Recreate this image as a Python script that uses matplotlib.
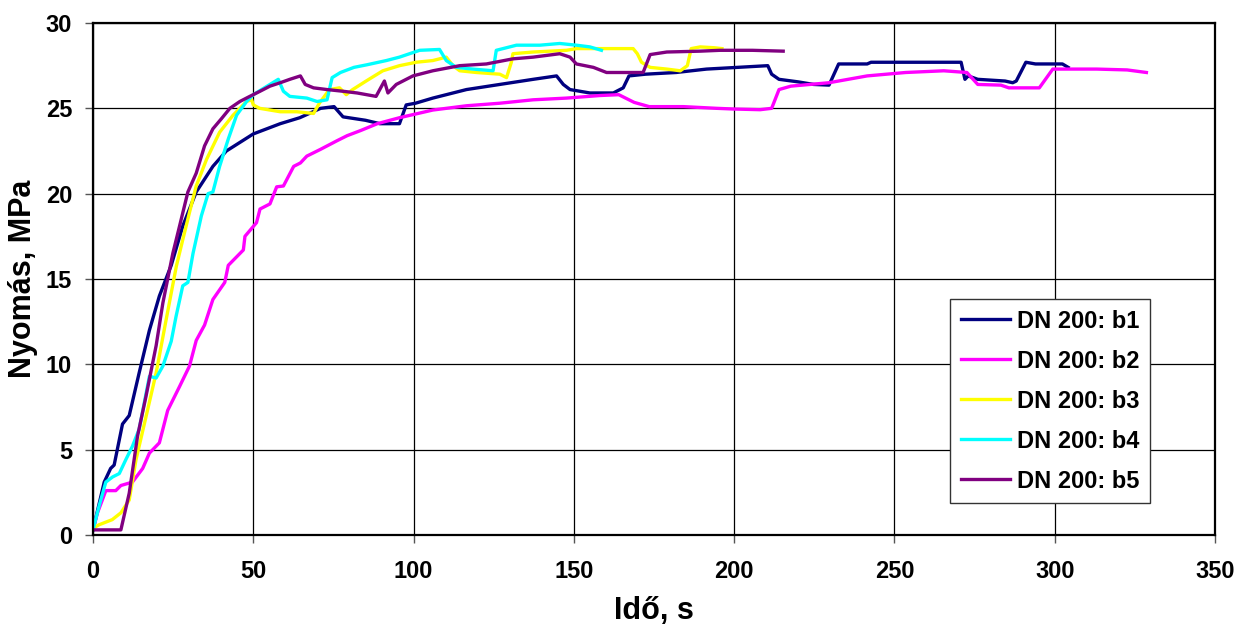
import matplotlib
matplotlib.use("Agg")
import matplotlib.pyplot as plt

plt.rcParams['font.family'] = ['Liberation Sans', 'DejaVu Sans']
plt.rcParams['font.weight'] = 'bold'

labels = ["DN 200: b1", "DN 200: b2", "DN 200: b3", "DN 200: b4", "DN 200: b5"]
colors = ["#000080", "#FF00FF", "#FFFF00", "#00FFFF", "#800080"]

t_b1 = [0, 3.5, 5.5, 6.6, 9.2, 11.3, 14.4, 17.6, 20.7, 24.4, 28, 32.2, 37.4, 41.6, 45.8, 50, 58.4, 64.5, 71, 75.2, 78, 85, 89.5, 95.6, 97.7, 100.6, 106, 116.5, 126.9, 137.3, 144.6, 146.7, 148.8, 155, 162.3, 165.4, 167.2, 172.3, 181.9, 191.4, 201, 210.5, 211.7, 214, 220, 224.8, 229.6, 232.6, 241.5, 242.7, 253.5, 270.8, 272, 273, 276, 284.5, 286.9, 288, 291, 294, 302.4, 304.2]
p_b1 = [0.3, 3.1, 3.9, 4.1, 6.5, 7.0, 9.5, 12.0, 14.0, 15.8, 18.1, 20.1, 21.6, 22.5, 23.0, 23.5, 24.1, 24.45, 25.0, 25.1, 24.5, 24.3, 24.1, 24.1, 25.2, 25.3, 25.6, 26.1, 26.4, 26.7, 26.9, 26.4, 26.1, 25.9, 25.9, 26.2, 26.9, 27.0, 27.1, 27.3, 27.4, 27.5, 27.0, 26.7, 26.55, 26.4, 26.36, 27.6, 27.6, 27.7, 27.7, 27.7, 26.7, 26.9, 26.7, 26.6, 26.5, 26.6, 27.7, 27.6, 27.6, 27.4]

t_b2 = [0, 1.4, 4, 7.1, 8.7, 12.3, 15.5, 17.6, 20.7, 23.3, 27, 30.1, 32.2, 34.8, 37.4, 41.1, 42.2, 46.9, 47.4, 51, 52.1, 55.2, 57.3, 59.4, 62.6, 64.7, 66.7, 71, 76.1, 79.3, 83.5, 88.7, 95.6, 106, 116.5, 126.9, 137.3, 147.7, 158.1, 164, 168.8, 173.5, 184.2, 194.6, 199.8, 208.1, 211.7, 214, 217.7, 229.6, 241.5, 253.5, 265.4, 272.6, 276, 283.2, 285.7, 295.2, 299.4, 313.1, 322.6, 328.6]
p_b2 = [0.3, 1.3, 2.6, 2.6, 2.9, 3.1, 3.9, 4.8, 5.4, 7.3, 8.7, 9.9, 11.4, 12.3, 13.8, 14.8, 15.8, 16.7, 17.5, 18.3, 19.1, 19.4, 20.4, 20.45, 21.6, 21.8, 22.2, 22.6, 23.1, 23.4, 23.7, 24.1, 24.45, 24.9, 25.15, 25.3, 25.5, 25.6, 25.75, 25.8, 25.35, 25.1, 25.1, 25.0, 24.96, 24.92, 25.0, 26.1, 26.3, 26.5, 26.9, 27.1, 27.2, 27.1, 26.4, 26.36, 26.2, 26.2, 27.3, 27.3, 27.25, 27.1]

t_b3 = [0, 1.9, 6, 8.7, 11.3, 13.4, 16.5, 19.7, 22.8, 26, 28, 30.1, 32.2, 35.4, 39.5, 43.7, 47.9, 49.5, 50, 52, 58.4, 63.6, 68.8, 70.6, 73.75, 76.9, 79, 81, 85.2, 90.4, 95.6, 100.8, 106, 110.2, 112.3, 114.4, 119.6, 126.9, 129, 130.5, 131, 137.3, 147.7, 150.8, 168.5, 169.8, 171.1, 173.8, 179, 183.2, 185.4, 186.6, 189.4, 193.8, 196.2]
p_b3 = [0.4, 0.6, 0.9, 1.3, 2.05, 4.4, 6.9, 9.5, 12.6, 15.75, 17.3, 18.9, 20.45, 22.0, 23.6, 24.6, 25.4, 25.5, 25.2, 25.0, 24.8, 24.8, 24.7, 25.3, 26.1, 26.2, 25.8, 26.1, 26.6, 27.2, 27.5, 27.7, 27.8, 28.0, 27.5, 27.2, 27.1, 27.0, 26.8, 27.7, 28.2, 28.3, 28.4, 28.5, 28.5, 28.2, 27.7, 27.4, 27.3, 27.2, 27.5, 28.5, 28.6, 28.55, 28.5]

t_b4 = [0, 1.9, 4, 6.1, 8.2, 10.2, 12.3, 14.4, 17.6, 19.7, 21.8, 24.4, 25.9, 28, 29.6, 31.2, 33.8, 35.9, 37.4, 39.5, 42.2, 44.8, 47.9, 50, 52.6, 55.2, 57.8, 59.4, 61.4, 66.7, 69.9, 73, 74.6, 77.2, 81.4, 85.4, 91.5, 95.6, 101.9, 108.1, 110.2, 113.3, 118.5, 124.8, 125.8, 132.1, 139.4, 145.6, 150.8, 155, 158.6]
p_b4 = [0.3, 1.7, 3.1, 3.4, 3.6, 4.4, 5.2, 6.2, 9.3, 9.2, 9.9, 11.35, 12.8, 14.6, 14.8, 16.5, 18.7, 20.0, 20.1, 21.6, 23.2, 24.6, 25.4, 25.8, 26.1, 26.4, 26.7, 26.0, 25.7, 25.6, 25.4, 25.5, 26.8, 27.1, 27.4, 27.55, 27.8, 28.0, 28.4, 28.45, 27.8, 27.4, 27.3, 27.2, 28.4, 28.7, 28.7, 28.8, 28.7, 28.6, 28.4]

t_b5 = [0, 8.7, 11.3, 13.9, 16.5, 19.7, 21.8, 24.9, 27, 29.6, 32.2, 34.8, 37.4, 40.1, 42.7, 45.8, 48.9, 52.1, 55.2, 58.4, 61.4, 64.7, 66.2, 68.8, 73, 78, 82.4, 88.3, 90.9, 92, 94.6, 99.8, 106, 114.4, 122.7, 131, 137.3, 145.6, 148.8, 150.8, 156.1, 160.2, 168.5, 171.6, 173.8, 179, 189.4, 195.6, 205.7, 215.3]
p_b5 = [0.3, 0.3, 2.45, 5.8, 8.1, 11.1, 13.6, 16.5, 18.1, 20.1, 21.2, 22.8, 23.8, 24.4, 25.0, 25.4, 25.7, 26.0, 26.3, 26.5, 26.7, 26.9, 26.4, 26.2, 26.1, 26.0, 25.9, 25.7, 26.6, 25.9, 26.4, 26.9, 27.2, 27.5, 27.6, 27.9, 28.0, 28.2, 28.0, 27.6, 27.4, 27.1, 27.1, 27.1, 28.15, 28.3, 28.35, 28.4, 28.4, 28.35]

x_ticks = [0, 50, 100, 150, 200, 250, 300, 350]
y_ticks = [0, 5, 10, 15, 20, 25, 30]

series = [(t_b1, p_b1), (t_b2, p_b2), (t_b3, p_b3), (t_b4, p_b4), (t_b5, p_b5)]

fig = plt.figure(figsize=(12.4, 6.28), dpi=100)
ax = fig.add_axes([93/1240, 1 - 535/628, (1215 - 93)/1240, (535 - 23)/628])

for (t, p), c, lab in zip(series, colors, labels):
    ax.plot(t, p, color=c, lw=2.4, label=lab, solid_joinstyle='round')

ax.set_xlim(0, 350)
ax.set_ylim(0, 30)
ax.set_xticks(x_ticks)
ax.set_yticks(y_ticks)
ax.grid(True, color='black', lw=0.9)
ax.set_axisbelow(True)
for s in ax.spines.values():
    s.set_color('black')
    s.set_linewidth(1.6)
ax.tick_params(axis='both', direction='out', length=6, width=1, color='#555555', labelsize=17)
ax.tick_params(axis='x', pad=12)
ax.tick_params(axis='y', pad=9)
for lbl in ax.get_xticklabels() + ax.get_yticklabels():
    lbl.set_fontweight('bold')

ax.set_xlabel("Idő, s", fontsize=22, fontweight='bold', va='center')
ax.set_ylabel("Nyomás, MPa", fontsize=22, fontweight='bold', va='center')
ax.xaxis.set_label_coords(0.5, (535 - 611) / 512)
ax.yaxis.set_label_coords((23 - 93) / 1122, 0.5)

leg = ax.legend(loc='upper left', bbox_to_anchor=(950/1240, 1 - 299/628),
                bbox_transform=fig.transFigure, fancybox=False, framealpha=1,
                edgecolor='#333333', prop={'size': 17, 'weight': 'bold'},
                handlelength=2.1, handletextpad=0.3, labelspacing=0.72,
                borderpad=0.45, borderaxespad=0)
leg.get_frame().set_linewidth(1.0)

fig.savefig("out.png", dpi=100)
